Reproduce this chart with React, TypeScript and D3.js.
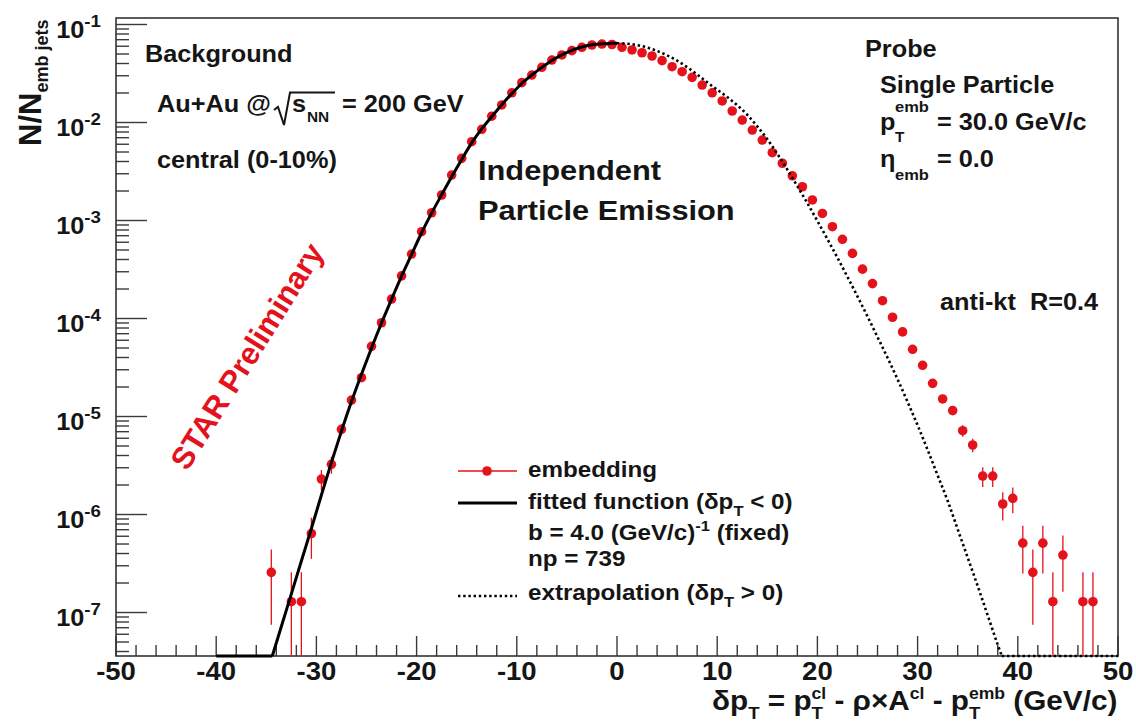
import React from 'react'
import * as d3 from 'd3'

// embedding histogram (bin centres, N/N_emb jets, stat. error)
const embX = [
  -34.5, -32.5, -31.5, -30.5, -29.5, -28.5, -27.5, -26.5, -25.5, -24.5, -23.5, -22.5,
  -21.5, -20.5, -19.5, -18.5, -17.5, -16.5, -15.5, -14.5, -13.5, -12.5, -11.5, -10.5,
  -9.5, -8.5, -7.5, -6.5, -5.5, -4.5, -3.5, -2.5, -1.5, -0.5,
  0.5, 1.5, 2.5, 3.5, 4.5, 5.5, 6.5, 7.5, 8.5, 9.5, 10.5, 11.5, 12.5, 13.5, 14.5,
  15.5, 16.5, 17.5, 18.5, 19.5, 20.5, 21.5, 22.5, 23.5, 24.5, 25.5, 26.5, 27.5, 28.5,
  29.5, 30.5, 31.5, 32.5, 33.5, 34.5, 35.5, 36.5, 37.5, 38.5, 39.5, 40.5, 41.5, 42.5,
  43.5, 44.5, 46.5, 47.5
]
const embY = [
  2.57e-7, 1.29e-7, 1.29e-7, 6.4e-7, 2.3e-6, 3.25e-6, 7.4e-6, 1.47e-5, 2.49e-5, 5.2e-5,
  9.05e-5, 1.58e-4, 2.72e-4, 4.55e-4, 7.69e-4, 1.2e-3, 1.82e-3, 2.91e-3, 4.31e-3, 6.37e-3,
  8.52e-3, 1.16e-2, 1.51e-2, 2.01e-2, 2.55e-2, 3.05e-2, 3.66e-2, 4.34e-2, 4.89e-2, 5.41e-2,
  5.85e-2, 6.18e-2, 6.32e-2, 6.25e-2,
  5.85e-2, 5.5e-2, 5.15e-2, 4.77e-2, 4.28e-2, 3.71e-2, 3.3e-2, 2.89e-2, 2.41e-2, 2.01e-2,
  1.66e-2, 1.31e-2, 1.06e-2, 8.38e-3, 6.62e-3, 4.92e-3, 3.84e-3, 2.86e-3, 2.21e-3, 1.62e-3,
  1.18e-3, 8.64e-4, 6.43e-4, 4.62e-4, 3.19e-4, 2.27e-4, 1.52e-4, 1.03e-4, 7.3e-5, 4.85e-5,
  3.33e-5, 2.18e-5, 1.51e-5, 1.15e-5, 7.16e-6, 5.12e-6, 2.47e-6, 2.47e-6, 1.28e-6, 1.46e-6,
  5.1e-7, 2.57e-7, 5.1e-7, 1.29e-7, 3.86e-7, 1.29e-7, 1.29e-7
]
const embErr = [
  1.82e-7, 1.29e-7, 1.29e-7, 2.87e-7, 5.45e-7, 6.47e-7, 9.8e-7, 1.38e-6, 1.79e-6, 2.59e-6,
  3.42e-6, 4.5e-6, 5.9e-6, 7.7e-6, 1.0e-5, 1.24e-5, 1.53e-5, 1.94e-5, 2.36e-5, 2.87e-5,
  3.3e-5, 3.9e-5, 4.4e-5, 5.1e-5, 5.7e-5, 6.3e-5, 6.9e-5, 7.5e-5, 7.9e-5, 8.4e-5,
  8.7e-5, 8.9e-5, 9.0e-5, 9.0e-5,
  8.7e-5, 8.4e-5, 8.2e-5, 7.8e-5, 7.4e-5, 6.9e-5, 6.5e-5, 6.1e-5, 5.6e-5, 5.1e-5,
  4.6e-5, 4.1e-5, 3.7e-5, 3.3e-5, 2.9e-5, 2.5e-5, 2.2e-5, 1.92e-5, 1.69e-5, 1.45e-5,
  1.23e-5, 1.06e-5, 9.1e-6, 7.7e-6, 6.4e-6, 5.4e-6, 4.4e-6, 3.6e-6, 3.1e-6, 2.5e-6,
  2.07e-6, 1.68e-6, 1.4e-6, 1.22e-6, 9.6e-7, 8.1e-7, 5.6e-7, 5.6e-7, 4.1e-7, 4.3e-7,
  2.6e-7, 1.82e-7, 2.6e-7, 1.29e-7, 2.23e-7, 1.29e-7, 1.29e-7
]

// fitted function (dpT < 0), solid
const fitX = [
  -40, -34.4, -33.5, -32.5, -31.5, -30.5, -29.5, -28.5, -27.5, -26.5, -25.5, -24.5, -23.5,
  -22.5, -21.5, -20.5, -19.5, -18.5, -17.5, -16.5, -15.5, -14.5, -13.5, -12.5, -11.5,
  -10.5, -9.5, -8.5, -7.5, -6.5, -5.5, -4.5, -3.5, -2.5, -1.5, -0.5, 0
]
const fitY = [
  1e-9, 3.6e-8, 7.2e-8, 1.55e-7, 3.35e-7, 7.2e-7, 1.58e-6, 3.4e-6, 7.1e-6, 1.42e-5, 2.7e-5,
  5.0e-5, 9.0e-5, 1.57e-4, 2.7e-4, 4.5e-4, 7.5e-4, 1.19e-3, 1.83e-3, 2.8e-3, 4.2e-3, 6.2e-3,
  8.6e-3, 1.15e-2, 1.52e-2, 1.97e-2, 2.5e-2, 3.05e-2, 3.65e-2, 4.3e-2, 4.9e-2, 5.45e-2,
  5.9e-2, 6.2e-2, 6.37e-2, 6.42e-2, 6.43e-2
]

// extrapolation (dpT > 0), dotted
const extX = [
  0, 1, 2, 3, 4, 5, 6, 7, 8, 9, 10, 11, 12, 13, 14, 15, 16, 17, 18, 19, 20, 21, 22, 23, 24,
  25, 26, 27, 28, 29, 30, 31, 32, 33, 34, 35, 36, 37, 38, 38.4, 50
]
const extY = [
  6.43e-2, 6.37e-2, 6.17e-2, 5.82e-2, 5.37e-2, 4.84e-2, 4.27e-2, 3.67e-2, 3.09e-2, 2.57e-2,
  2.16e-2, 1.82e-2, 1.5e-2, 1.2e-2, 9.12e-3, 6.76e-3, 4.79e-3, 3.31e-3, 2.24e-3, 1.5e-3,
  9.89e-4, 6.46e-4, 4.17e-4, 2.66e-4, 1.68e-4, 1.05e-4, 6.46e-5, 3.98e-5, 2.4e-5, 1.41e-5,
  8.13e-6, 4.57e-6, 2.51e-6, 1.38e-6, 7.08e-7, 3.63e-7, 1.86e-7, 9.33e-8, 4.68e-8, 3.6e-8,
  1e-9
]

const xTickLabels = [-50, -40, -30, -20, -10, 0, 10, 20, 30, 40, 50]
const yDecades = [1e-1, 1e-2, 1e-3, 1e-4, 1e-5, 1e-6, 1e-7]
const yExponents = ['-1', '-2', '-3', '-4', '-5', '-6', '-7']

const W = 1136
const H = 728
const frame = { left: 116, right: 1118, top: 18, bottom: 656 }
const FONT = '"Liberation Sans", Arial, Helvetica, sans-serif'
const INK = '#151515'
const RED = '#e3121b'
const SX = 1.1 // the picture's text is a little wider than Arial

const x = d3.scaleLinear().domain([-50, 50]).range([frame.left, frame.right])
const y = d3.scaleLog().domain([3.6e-8, 0.1165]).range([frame.bottom, frame.top]).clamp(true)

const Label = ({ x: px, y: py, size, anchor = 'start', fill = INK, children }: any) => (
  <text
    transform={`translate(${px},${py}) scale(${SX},1)`}
    fontSize={size}
    textAnchor={anchor}
    fill={fill}
    fontWeight='bold'
    fontFamily={FONT}
  >
    {children}
  </text>
)

const App = () => {
  const emb = embX.map((v, i) => ({ x: v, y: embY[i], e: embErr[i] }))
  const fit = fitX.map((v, i) => [x(v), y(fitY[i])] as [number, number])
  const ext = extX.map((v, i) => [x(v), y(extY[i])] as [number, number])

  const smooth = d3.line().curve(d3.curveMonotoneX)
  const straight = d3.line()

  const xMinor = x.ticks(50)
  const yMinor = y.ticks()

  return (
    <svg
      width={W}
      height={H}
      style={{ position: 'absolute', left: 0, top: 0, background: '#fff' }}
      fontFamily={FONT}
    >
      <rect width={W} height={H} fill='#fff' />

      {/* ticks */}
      <g stroke='#3a3a3a' strokeWidth={1.4}>
        {xMinor.map(t => (
          <line key={'xt' + t} x1={x(t)} x2={x(t)} y1={frame.bottom}
            y2={frame.bottom - (t % 10 === 0 ? 20 : 11)} />
        ))}
        {yMinor.map((t, i) => (
          <line key={'yt' + i} x1={frame.left} y1={y(t)} y2={y(t)}
            x2={frame.left + (yDecades.some(d => Math.abs(d - t) / d < 1e-6) ? 31 : 13)} />
        ))}
      </g>
      <rect x={frame.left} y={frame.top} width={frame.right - frame.left}
        height={frame.bottom - frame.top} fill='none' stroke='#333' strokeWidth={1.6} />

      {/* error bars + markers */}
      <g stroke={RED} strokeWidth={1.3}>
        {emb.map(d => (
          <line key={'e' + d.x} x1={x(d.x)} x2={x(d.x)}
            y1={d.y - d.e > 0 ? y(d.y - d.e) : frame.bottom} y2={y(d.y + d.e)} />
        ))}
      </g>
      <g fill={RED}>
        {emb.map(d => <circle key={'m' + d.x} cx={x(d.x)} cy={y(d.y)} r={4.8} />)}
      </g>

      {/* fitted function and extrapolation */}
      <path d={straight(fit.slice(0, 2)) || ''} fill='none' stroke='#000' strokeWidth={3} />
      <path d={smooth(fit.slice(1)) || ''} fill='none' stroke='#000' strokeWidth={3} />
      <path d={smooth(ext.slice(0, ext.length - 1)) || ''} fill='none' stroke='#000'
        strokeWidth={2.6} strokeDasharray='2.4 2.8' />
      <path d={straight(ext.slice(ext.length - 2)) || ''} fill='none' stroke='#000'
        strokeWidth={2.6} strokeDasharray='2.4 2.8' />

      {/* axis labels */}
      {xTickLabels.map(t => (
        <Label key={'xl' + t} x={x(t)} y={680} size={25} anchor='middle'>{t}</Label>
      ))}
      {yDecades.map((d, i) => (
        <Label key={'yl' + i} x={101} y={y(d) + 13} size={23} anchor='end'>
          10<tspan fontSize={17} dy={-11}>{yExponents[i]}</tspan>
        </Label>
      ))}
      <text transform='translate(41,146) rotate(-90)' fontSize={31} fontWeight='bold' fill={INK}>
        N/N<tspan fontSize={18} dy={7}>emb jets</tspan>
      </text>
      <Label x={712} y={710} size={27}>
        δp<tspan fontSize={17} dy={9}>T</tspan>
        <tspan dy={-9}> = p</tspan><tspan fontSize={17} dy={9}>T</tspan>
        <tspan fontSize={16} dx={-10.4} dy={-20}>cl</tspan>
        <tspan dy={11}> - ρ×A</tspan><tspan fontSize={16} dy={-11}>cl</tspan>
        <tspan dy={11}> - p</tspan><tspan fontSize={17} dy={9}>T</tspan>
        <tspan fontSize={16} dx={-10.4} dy={-20}>emb</tspan>
        <tspan dy={11}> (GeV/c)</tspan>
      </Label>

      {/* annotations */}
      <Label x={145} y={62} size={23}>Background</Label>
      <Label x={157} y={112} size={23}>Au+Au @</Label>
      <path d='M274,110 L278,107 L284,125 L290,92.5 L335,92.5' fill='none' stroke={INK} strokeWidth={2} />
      <Label x={292} y={112} size={23}>s</Label>
      <Label x={307} y={122} size={14}>NN</Label>
      <Label x={342} y={112} size={23}>= 200 GeV</Label>
      <Label x={157} y={168} size={23}>central (0-10%)</Label>

      <Label x={478} y={180} size={28}>Independent</Label>
      <Label x={478} y={220} size={28}>Particle Emission</Label>

      <Label x={865} y={57} size={23}>Probe</Label>
      <Label x={880} y={93} size={23}>Single Particle</Label>
      <Label x={880} y={130} size={23}>p</Label>
      <Label x={895} y={142} size={14}>T</Label>
      <Label x={895} y={112} size={15}>emb</Label>
      <Label x={937} y={130} size={23}>= 30.0 GeV/c</Label>
      <Label x={880} y={167} size={23}>η</Label>
      <Label x={895} y={180} size={15}>emb</Label>
      <Label x={937} y={167} size={23}>= 0.0</Label>

      <Label x={940} y={310} size={23}>{'anti-kt\u00a0\u00a0R=0.4'}</Label>

      <text transform='translate(256,362) rotate(-58)' fontSize={31} fontWeight='bold'
        fill={RED} textAnchor='middle'>STAR Preliminary</text>

      {/* legend */}
      <line x1={458} x2={517} y1={471} y2={471} stroke={RED} strokeWidth={1.4} />
      <circle cx={487} cy={471} r={4.8} fill={RED} />
      <Label x={528} y={477} size={22}>embedding</Label>
      <line x1={458} x2={517} y1={503} y2={503} stroke='#000' strokeWidth={3} />
      <Label x={528} y={509} size={22}>
        fitted function (δp<tspan fontSize={15} dy={7}>T</tspan><tspan dy={-7}> &lt; 0)</tspan>
      </Label>
      <Label x={528} y={540} size={22}>
        b = 4.0 (GeV/c)<tspan fontSize={15} dy={-9}>-1</tspan><tspan dy={9}> (fixed)</tspan>
      </Label>
      <Label x={528} y={566} size={22}>np = 739</Label>
      <line x1={458} x2={517} y1={596} y2={596} stroke='#000' strokeWidth={2.6}
        strokeDasharray='2.4 2.8' />
      <Label x={528} y={600} size={22}>
        extrapolation (δp<tspan fontSize={15} dy={7}>T</tspan><tspan dy={-7}> &gt; 0)</tspan>
      </Label>
    </svg>
  )
}

export default App
